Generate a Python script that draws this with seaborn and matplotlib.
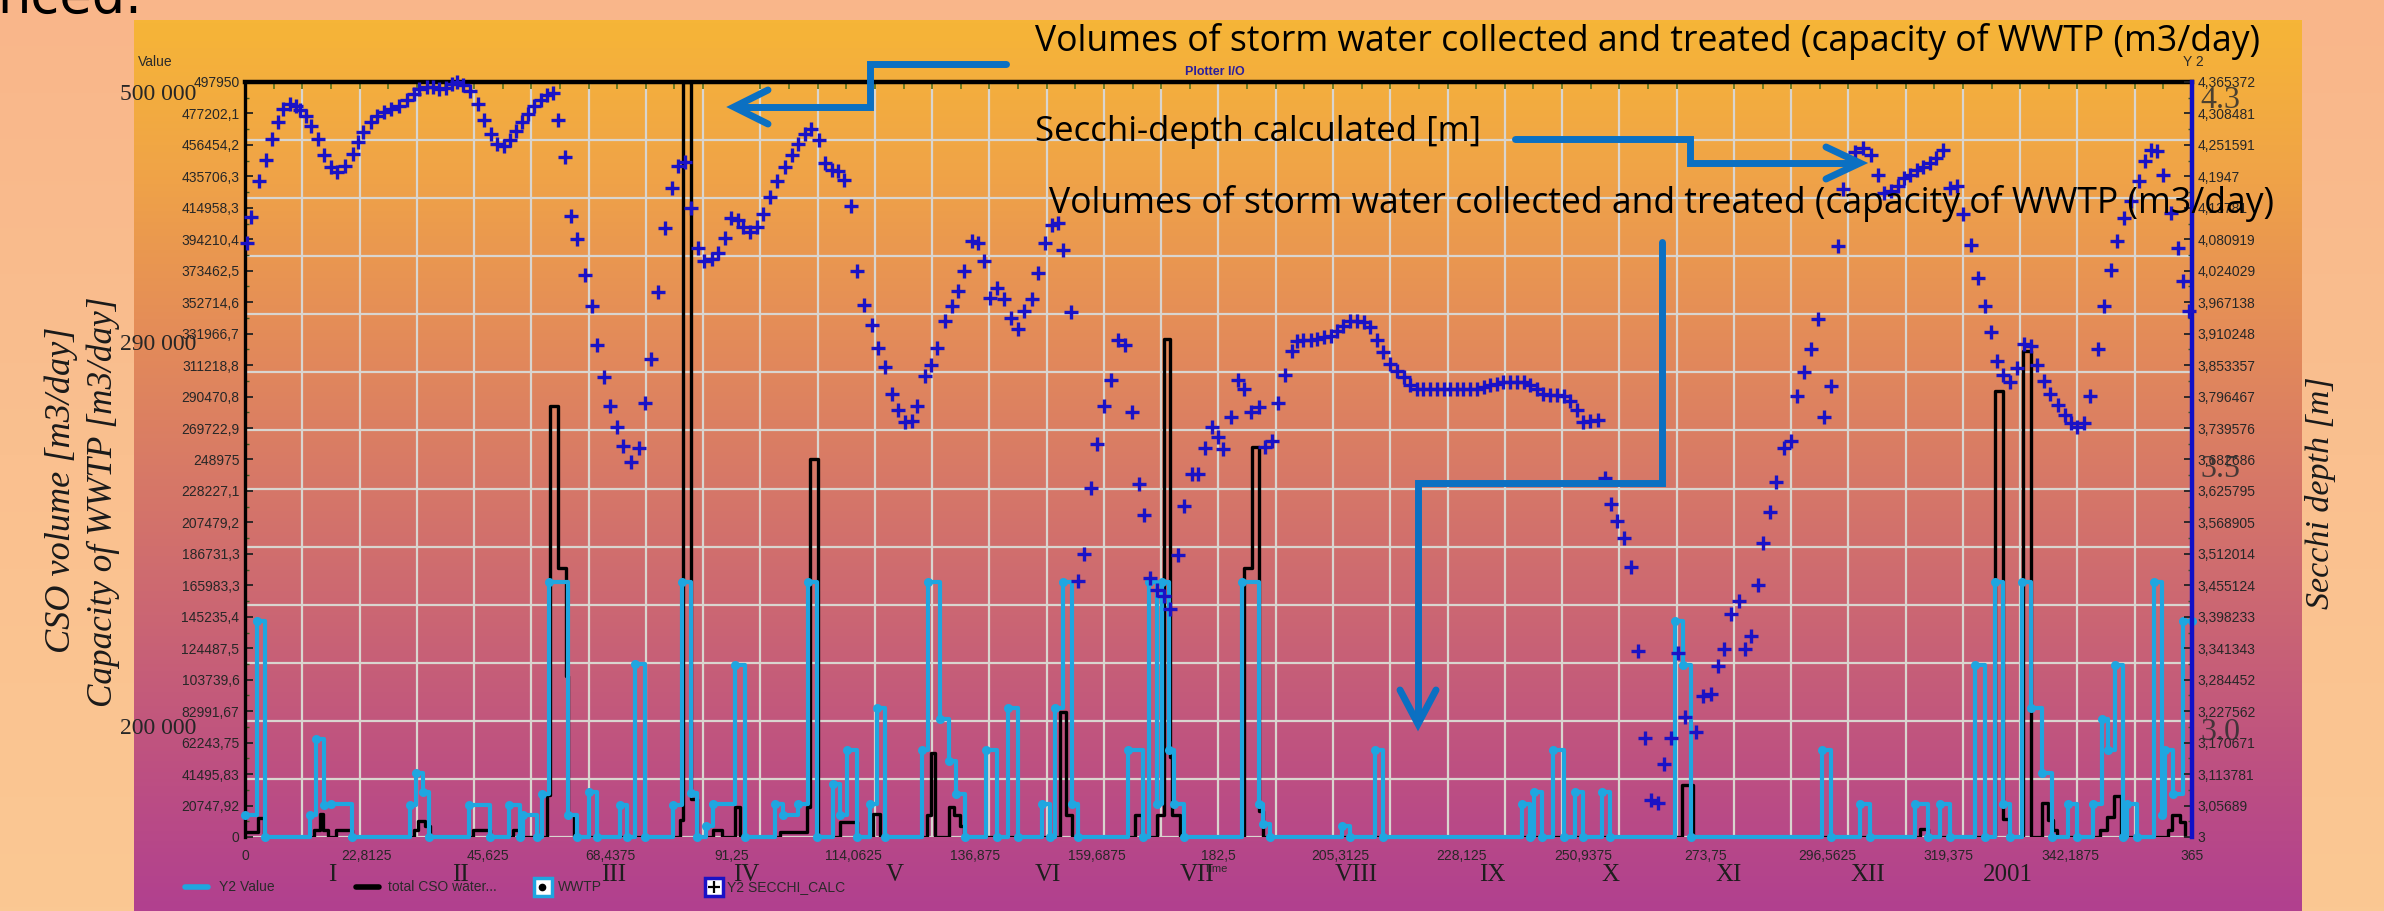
"""
CSO volumes, WWTP capacity and calculated Secchi depth (Plotter I/O screenshot)
"""
import numpy as np
import matplotlib
matplotlib.use("Agg")
import matplotlib.pyplot as plt
from matplotlib.colors import LinearSegmentedColormap
from matplotlib.lines import Line2D
import seaborn as sns

sns.set_theme(style="white")
plt.rcParams["font.family"] = ["Liberation Sans", "DejaVu Sans"]

# ─────────────────────────────────────────────
# DATA
# ─────────────────────────────────────────────
# calculated Secchi depth [m] (right axis)
secchi_day = [
    0.3, 1.1, 2.6, 3.9, 5.0, 6.1, 7.2, 8.4, 9.6, 10.4, 11.4, 12.4, 13.6, 14.9, 16.2,
    17.3, 18.7, 20.2, 21.2, 22.2, 23.6, 24.8, 26.1, 27.3, 28.8, 30.3, 31.6, 32.7, 34.1,
    35.3, 36.4, 37.7, 38.8, 39.8, 40.9, 42.2, 43.6, 44.8, 46.1, 47.2, 48.6, 49.7, 50.8,
    51.9, 53.1, 54.2, 55.4, 56.6, 57.7, 58.6, 60.0, 61.2, 62.3, 63.7, 65.1, 65.9, 67.3,
    68.4, 69.8, 70.9, 72.3, 73.9, 74.9, 76.1, 77.5, 78.8, 80.0, 81.2, 82.4, 83.7, 85.0,
    86.1, 87.5, 88.6, 90.0, 91.2, 92.5, 93.4, 94.7, 95.9, 97.2, 98.4, 99.8, 101.2, 102.5,
    103.7, 105.0, 106.2, 107.7, 108.7, 110.0, 111.1, 112.2, 113.6, 114.8, 116.0, 117.5,
    118.7, 120.0, 121.2, 122.5, 123.7, 125.0, 126.0, 127.4, 128.6, 129.8, 131.2, 132.5,
    133.7, 134.8, 136.2, 137.5, 138.6, 139.7, 141.0, 142.3, 143.6, 145.0, 146.1, 147.5,
    148.6, 150.0, 151.2, 152.4, 153.4, 154.8, 156.1, 157.3, 158.6, 159.8, 161.1, 162.3,
    163.6, 165.0, 166.2, 167.6, 168.5, 169.7, 170.9, 172.2, 173.4, 175.0, 176.1, 177.5,
    178.7, 180.0, 181.2, 182.5, 183.4, 184.8, 186.1, 187.3, 188.6, 190.0, 191.2, 192.5,
    193.7, 195.0, 196.2, 197.2, 198.4, 199.8, 200.9, 202.3, 203.6, 204.7, 205.9, 207.2,
    208.4, 209.7, 210.9, 212.2, 213.4, 214.7, 215.9, 217.2, 218.4, 219.7, 220.9, 222.2,
    223.4, 224.7, 225.9, 227.2, 228.4, 229.7, 230.9, 232.2, 233.4, 234.7, 235.9, 237.2,
    238.4, 239.7, 240.9, 242.2, 243.4, 244.7, 245.9, 247.2, 248.4, 249.7, 250.9, 252.2,
    253.7, 255.0, 256.1, 257.2, 258.6, 259.8, 261.1, 262.4, 263.6, 264.9, 266.1, 267.4,
    268.7, 269.9, 272.1, 273.3, 274.8, 276.2, 277.3, 278.6, 280.0, 281.2, 282.4, 283.7,
    284.6, 285.9, 287.1, 288.5, 289.8, 290.9, 292.3, 293.6, 294.9, 296.1, 297.4, 298.7,
    299.6, 301.8, 303.4, 304.9, 306.2, 307.3, 308.5, 309.8, 311.0, 312.1, 313.4, 314.6,
    315.9, 317.1, 318.4, 319.6, 321.0, 322.1, 323.5, 324.8, 326.2, 327.4, 328.4, 329.6,
    330.9, 332.1, 333.5, 334.8, 336.0, 337.3, 338.4, 339.8, 341.2, 342.4, 343.4, 344.8,
    345.9, 347.3, 348.5, 349.8, 351.0, 352.3, 353.5, 355.0, 356.2, 357.3, 358.5, 359.6,
    361.0, 362.3, 363.4, 364.5,
]
secchi_val = [
    4.074, 4.121, 4.187, 4.225, 4.263, 4.293, 4.317, 4.326, 4.322, 4.315, 4.304, 4.286,
    4.263, 4.234, 4.212, 4.203, 4.214, 4.236, 4.257, 4.275, 4.293, 4.304, 4.311, 4.317,
    4.322, 4.333, 4.344, 4.353, 4.357, 4.357, 4.353, 4.355, 4.362, 4.366, 4.360, 4.349,
    4.326, 4.297, 4.272, 4.254, 4.250, 4.261, 4.277, 4.293, 4.308, 4.322, 4.333, 4.342,
    4.346, 4.297, 4.230, 4.123, 4.081, 4.016, 3.960, 3.890, 3.831, 3.780, 3.741, 3.707,
    3.679, 3.703, 3.784, 3.865, 3.985, 4.101, 4.174, 4.214, 4.220, 4.138, 4.066, 4.041,
    4.045, 4.056, 4.084, 4.120, 4.115, 4.104, 4.095, 4.104, 4.126, 4.158, 4.187, 4.212,
    4.234, 4.254, 4.272, 4.281, 4.261, 4.218, 4.207, 4.205, 4.189, 4.142, 4.023, 3.962,
    3.926, 3.885, 3.850, 3.802, 3.773, 3.750, 3.753, 3.780, 3.834, 3.854, 3.885, 3.933,
    3.960, 3.988, 4.023, 4.078, 4.074, 4.041, 3.975, 3.993, 3.973, 3.939, 3.919, 3.951,
    3.973, 4.020, 4.075, 4.106, 4.110, 4.061, 3.949, 3.463, 3.512, 3.631, 3.710, 3.780,
    3.826, 3.898, 3.889, 3.769, 3.639, 3.582, 3.468, 3.447, 3.436, 3.413, 3.510, 3.598,
    3.656, 3.656, 3.703, 3.742, 3.723, 3.701, 3.760, 3.827, 3.811, 3.768, 3.777, 3.706,
    3.717, 3.784, 3.836, 3.879, 3.897, 3.899, 3.899, 3.901, 3.904, 3.906, 3.915, 3.924,
    3.933, 3.934, 3.931, 3.922, 3.899, 3.877, 3.856, 3.843, 3.831, 3.818, 3.811, 3.811,
    3.811, 3.811, 3.811, 3.810, 3.810, 3.811, 3.811, 3.811, 3.814, 3.817, 3.820, 3.822,
    3.822, 3.823, 3.823, 3.818, 3.811, 3.802, 3.800, 3.800, 3.798, 3.789, 3.773, 3.751,
    3.753, 3.755, 3.649, 3.602, 3.571, 3.540, 3.489, 3.336, 3.179, 3.067, 3.062, 3.132,
    3.179, 3.333, 3.217, 3.190, 3.255, 3.258, 3.310, 3.340, 3.403, 3.426, 3.340, 3.364,
    3.456, 3.532, 3.588, 3.642, 3.703, 3.717, 3.798, 3.841, 3.883, 3.937, 3.759, 3.815,
    4.068, 4.171, 4.239, 4.246, 4.234, 4.198, 4.164, 4.169, 4.178, 4.191, 4.198, 4.207,
    4.212, 4.219, 4.228, 4.242, 4.174, 4.178, 4.126, 4.070, 4.011, 3.960, 3.913, 3.861,
    3.836, 3.823, 3.849, 3.892, 3.888, 3.854, 3.825, 3.801, 3.782, 3.764, 3.748, 3.741,
    3.748, 3.798, 3.883, 3.960, 4.025, 4.078, 4.119, 4.151, 4.187, 4.223, 4.243, 4.241,
    4.198, 4.128, 4.065, 4.005, 3.951,
]

# WWTP treated volume [m3/day], step series (day where a level starts, level)
wwtp_day = [
    0, 2.2, 3.7, 12.2, 13.4, 14.9, 16.2, 20.0, 31.0, 32.0, 33.4, 34.5, 42.0, 46.0,
    49.4, 51.6, 52.2, 54.7, 55.6, 56.9, 60.6, 62.2, 64.4, 66.0, 70.3, 71.6, 73.1, 75.0,
    80.3, 82.0, 83.7, 84.7, 86.5, 87.8, 91.9, 93.7, 99.4, 100.9, 103.7, 105.5, 107.2,
    110.3, 111.5, 112.8, 114.7, 117.2, 118.4, 120.0, 126.9, 128.1, 130.2, 131.9, 133.2,
    135.0, 139.0, 141.0, 143.1, 145.0, 149.4, 150.9, 151.9, 153.4, 155.0, 156.2, 165.6,
    168.4, 169.4, 171.0, 171.9, 173.2, 174.2, 176.0, 186.9, 190.0, 190.9, 192.2, 205.6,
    207.2, 211.9, 213.4, 239.4, 240.9, 241.6, 243.1, 245.3, 247.2, 249.4, 250.9, 254.4,
    255.9, 268.1, 269.5, 271.0, 295.6, 297.4, 302.8, 304.6, 313.1, 315.6, 317.8, 319.6,
    324.3, 326.2, 328.1, 329.6, 330.9, 333.1, 334.8, 336.8, 338.7, 341.8, 343.4, 346.5,
    348.1, 349.3, 350.6, 352.1, 352.8, 354.6, 357.8, 359.3, 359.9, 361.5, 363.4, 365.0,
]
wwtp_val = [
    14700, 142600, 0, 14700, 64500, 21000, 22000, 0, 21000, 42500, 30000, 0, 21000, 0,
    21000, 0, 14700, 0, 28400, 168000, 14700, 0, 29400, 0, 21000, 0, 114300, 0,
    21000, 168000, 29000, 0, 7000, 21900, 113700, 0, 21900, 14700, 21900, 168000, 0,
    35000, 14700, 57200, 0, 21900, 84800, 0, 57200, 168000, 77600, 49800, 28400,
    0, 57200, 0, 84800, 0, 21900, 0, 84800, 168000, 21900, 0, 57200,
    0, 168000, 21900, 168000, 57200, 21900, 0, 168000, 21900, 8700, 0, 7100,
    0, 57200, 0, 21900, 0, 29400, 0, 57200, 0, 29400, 0, 29400,
    0, 142600, 113700, 0, 57200, 0, 21900, 0, 21900, 0, 21900, 0,
    113700, 0, 168000, 21900, 0, 168000, 84800, 42500, 0, 21900, 0, 21900,
    77600, 57200, 113700, 0, 21900, 0, 168000, 14700, 57200, 28400, 142600, 142600,
]

# total CSO water [m3/day], step series
cso_day = [
    0, 2.5, 3.5, 13.0, 14.0, 14.7, 15.5, 17.0, 20.0, 31.6, 32.5, 33.8, 34.7, 42.8, 46.0,
    50.3, 51.6, 56.6, 57.2, 58.7, 60.2, 60.6, 61.6, 81.6, 82.2, 83.7, 84.7, 87.8, 89.4,
    91.9, 92.8, 100.3, 105.3, 106.0, 107.5, 111.5, 114.7, 117.8, 119.0, 127.8, 128.6,
    129.4, 131.9, 133.0, 134.0, 134.7, 152.8, 154.0, 155.0, 166.9, 168.1, 170.9, 172.2,
    173.4, 173.7, 175.3, 187.2, 188.7, 190.0, 190.9, 269.4, 271.5, 314.0, 315.6, 328.1,
    329.6, 330.6, 333.4, 334.9, 336.8, 338.0, 339.0, 339.6, 347.8, 349.0, 350.3, 351.6,
    360.5, 361.3, 362.7, 363.7,
]
cso_val = [
    3500, 12700, 0, 4700, 15300, 4700, 0, 4700, 0, 4700, 10400, 7100, 0, 4700, 0,
    4700, 0, 28000, 284400, 177700, 106500, 14700, 0, 11300, 497950, 25000, 0, 4700, 0,
    20000, 0, 3000, 20000, 249200, 0, 10000, 0, 15000, 0, 14700, 55700,
    0, 20000, 14700, 7000, 0, 82600, 14700, 0, 14700, 0, 14700, 328700,
    53000, 14700, 0, 177700, 257400, 17000, 0, 34300, 0, 5500, 0, 294200,
    12000, 0, 320400, 0, 22400, 11200, 4600, 0, 4700, 13200, 26800, 0,
    4700, 14500, 10000, 0,
]

# tick labels as printed by the plotter
x_tick_labels = ["0", "22,8125", "45,625", "68,4375", "91,25", "114,0625", "136,875",
                 "159,6875", "182,5", "205,3125", "228,125", "250,9375", "273,75",
                 "296,5625", "319,375", "342,1875", "365"]
left_tick_labels = ["0", "20747,92", "41495,83", "62243,75", "82991,67", "103739,6",
                    "124487,5", "145235,4", "165983,3", "186731,3", "207479,2",
                    "228227,1", "248975", "269722,9", "290470,8", "311218,8",
                    "331966,7", "352714,6", "373462,5", "394210,4", "414958,3",
                    "435706,3", "456454,2", "477202,1", "497950"]
right_tick_labels = ["3", "3,05689", "3,113781", "3,170671", "3,227562", "3,284452",
                     "3,341343", "3,398233", "3,455124", "3,512014", "3,568905",
                     "3,625795", "3,682686", "3,739576", "3,796467", "3,853357",
                     "3,910248", "3,967138", "4,024029", "4,080919", "4,13781",
                     "4,1947", "4,251591", "4,308481", "4,365372"]
month_labels = ["I", "II", "III", "IV", "V", "VI", "VII", "VIII", "IX", "X", "XI",
                "XII", "2001"]
left_big_labels = ["500 000", "290 000", "200 000"]
right_big_labels = ["4.3", "3.5", "3.0"]

X_MAX, Y_MAX = 365, 497950
Y2_MIN, Y2_MAX = 3, 4.365372

# ─────────────────────────────────────────────
# STYLE / LAYOUT (pixels of the 2384 x 911 screenshot)
# ─────────────────────────────────────────────
W, H = 2384, 911
CYAN = "#1FA6E0"
SECCHI_BLUE = "#1A12C6"
ARROW_BLUE = "#0B70C2"
TICK_COLOR = "#272727"


def fx(x):
    return x / W


def fy(y):
    return 1 - y / H


fig = plt.figure(figsize=(W / 100, H / 100), dpi=100)

# background: slide (peach) + plotter panel (orange -> magenta)
bg = fig.add_axes([0, 0, 1, 1], zorder=-5)
bg.set_xlim(0, W)
bg.set_ylim(H, 0)
bg.axis("off")
grad = np.linspace(0, 1, 256).reshape(-1, 1)
outer_cmap = LinearSegmentedColormap.from_list("outer", ["#F9B68A", "#FAC08F", "#FAC893"])
panel_cmap = LinearSegmentedColormap.from_list(
    "panel", ["#F6B537", "#F0A447", "#E58E57", "#D87A66", "#CB6673", "#BE5181", "#B1408F"])
bg.imshow(grad, extent=(0, W, H, 0), aspect="auto", cmap=outer_cmap)
bg.imshow(grad, extent=(134, 2302, H, 20), aspect="auto", cmap=panel_cmap)

# main axes
ax = fig.add_axes([fx(245), fy(837), fx(2192) - fx(245), fy(82) - fy(837)])
ax.patch.set_visible(False)
ax.set_xlim(0, X_MAX)
ax.set_ylim(0, Y_MAX)

# plotter grid (34 x 13 cells, independent of the labelled ticks)
ax.vlines(np.linspace(0, X_MAX, 35), 0, Y_MAX, color="#D9D5CF", lw=1.6, zorder=0.5)
ax.hlines(np.linspace(0, Y_MAX, 14), 0, X_MAX, color="#D9D5CF", lw=1.6, zorder=0.5)

sns.lineplot(x=cso_day, y=cso_val, ax=ax, drawstyle="steps-post", color="black",
             lw=2.4, estimator=None, sort=False, zorder=2.5)
sns.lineplot(x=wwtp_day, y=wwtp_val, ax=ax, drawstyle="steps-post", color=CYAN,
             lw=3.0, marker="o", markersize=6.5, markeredgewidth=0,
             estimator=None, sort=False, zorder=3, clip_on=False)

ax.set_xticks(np.linspace(0, X_MAX, 17))
ax.set_xticklabels(x_tick_labels)
ax.set_xticks(np.linspace(0, X_MAX, 69), minor=True)
ax.set_yticks(np.linspace(0, Y_MAX, 25))
ax.set_yticklabels(left_tick_labels)
ax.set_yticks(np.linspace(0, Y_MAX, 49), minor=True)
ax.tick_params(axis="x", which="major", length=0, pad=9, labelsize=10,
               labelcolor=TICK_COLOR)
ax.tick_params(axis="x", which="minor", bottom=False, top=True, direction="in",
               length=5, width=1.4, color="#6B7B22")
ax.tick_params(axis="y", which="major", direction="in", length=6, width=1.3,
               color="#222222", pad=4, labelsize=10, labelcolor=TICK_COLOR)
ax.tick_params(axis="y", which="minor", direction="in", length=3, width=1.0,
               color="#3D5A1E")
ax.set_xlabel("")
ax.set_ylabel("")
ax.spines["bottom"].set_visible(False)
ax.spines["right"].set_visible(False)
ax.spines["top"].set_linewidth(3.2)
ax.spines["top"].set_color("black")
ax.spines["left"].set_linewidth(2.4)
ax.spines["left"].set_color("black")

# secondary axis: Secchi depth
ax2 = ax.twinx()
ax2.patch.set_visible(False)
ax2.set_ylim(Y2_MIN, Y2_MAX)
sns.scatterplot(x=secchi_day, y=secchi_val, ax=ax2, marker="+", s=90,
                color=SECCHI_BLUE, linewidth=2.4, zorder=5, clip_on=False)
ax2.set_yticks(np.linspace(Y2_MIN, Y2_MAX, 25))
ax2.set_yticklabels(right_tick_labels)
ax2.set_yticks(np.linspace(Y2_MIN, Y2_MAX, 49), minor=True)
ax2.tick_params(axis="y", which="major", direction="in", length=6, width=1.3,
                color="#222222", pad=4, labelsize=10, labelcolor=TICK_COLOR)
ax2.tick_params(axis="y", which="minor", direction="in", length=3, width=1.0,
                color="#3D5A1E")
ax2.set_ylabel("")
for side in ("top", "bottom", "left"):
    ax2.spines[side].set_visible(False)
ax2.spines["right"].set_color("#1010C8")
ax2.spines["right"].set_linewidth(3.2)

# ─────────────────────────────────────────────
# TEXT OVERLAYS
# ─────────────────────────────────────────────
small = dict(family=["Liberation Sans", "DejaVu Sans"], color="#2A2A2A")
fig.text(fx(138), fy(62), "Value", fontsize=10, va="center", ha="left", **small)
fig.text(fx(2183), fy(62), "Y 2", fontsize=10, va="center", ha="left", **small)
fig.text(fx(1215), fy(72), "Plotter I/O", fontsize=9, fontweight="bold",
         color="#2A1E9E", va="center", ha="center")
fig.text(fx(1216), fy(869), "Time", fontsize=8, va="center", ha="center", **small)

serif = ["Liberation Serif", "DejaVu Serif"]
for label, y in zip(left_big_labels, [94, 345, 728]):
    fig.text(fx(158), fy(y), label, family=serif, fontsize=17, color="#262626",
             ha="center", va="center")
for label, y in zip(right_big_labels, [100, 470, 733]):
    fig.text(fx(2220), fy(y), label, family=serif, fontsize=23, color="#2E2E2E",
             ha="center", va="center", alpha=0.85)

month_x = [332, 460, 614, 746, 895, 1048, 1197, 1356, 1492, 1610, 1729, 1868, 2008]
for label, x in zip(month_labels, month_x):
    fig.text(fx(x), fy(875), label, family=serif, fontsize=18, color="#1E1E1E",
             ha="center", va="center")

# slide remnant in the top-left corner
fig.text(fx(-3), fy(13), "nced.", family="DejaVu Sans", fontsize=38, color="black",
         ha="left", va="baseline")

# rotated axis titles
t_cso = fig.text(fx(61), fy(490), "CSO volume [m3/day]", family=serif, style="italic",
                 fontsize=24, rotation=90, ha="center", va="center", color="#1A1A1A")
t_cap = fig.text(fx(103), fy(502), "Capacity of WWTP [m3/day]", family=serif,
                 style="italic", fontsize=24, rotation=90, ha="center", va="center",
                 color="#1A1A1A")
t_sec = fig.text(fx(2320), fy(493), "Secchi depth [m]", family=serif, style="italic",
                 fontsize=24, rotation=90, ha="center", va="center", color="#1A1A1A")

# slide call-outs
note_font = ["Open Sans", "DejaVu Sans"]
t_n1 = fig.text(fx(1035), fy(42),
                "Volumes of storm water collected and treated (capacity of WWTP (m3/day)",
                family=note_font, fontsize=26, ha="left", va="center", color="black")
t_n2 = fig.text(fx(1035), fy(132), "Secchi-depth calculated [m]", family=note_font,
                fontsize=26, ha="left", va="center", color="black")
t_n3 = fig.text(fx(1049), fy(203),
                "Volumes of storm water collected and treated (capacity of WWTP (m3/day)",
                family=note_font, fontsize=26, ha="left", va="center", color="black")

renderer = fig.canvas.get_renderer()


def fit(text, target, vertical=False):
    bb = text.get_window_extent(renderer=renderer)
    size = bb.height if vertical else bb.width
    text.set_fontsize(text.get_fontsize() * target / size)


fit(t_cso, 327, vertical=True)
fit(t_cap, 411, vertical=True)
fit(t_sec, 233, vertical=True)
fit(t_n1, 1228)
fit(t_n2, 447)
fit(t_n3, 1227)

# call-out arrows
arrow_paths = [
    [(1006, 64), (870, 64), (870, 107), (736, 107)],
    [(1515, 139), (1690, 139), (1690, 163), (1857, 163)],
    [(1662, 242), (1662, 483), (1418, 483), (1418, 721)],
]
arrow_heads = [
    [(768, 90), (734, 107), (768, 124)],
    [(1826, 147), (1860, 163), (1826, 179)],
    [(1400, 690), (1418, 724), (1436, 690)],
]
for path in arrow_paths + arrow_heads:
    xs, ys = zip(*path)
    fig.add_artist(Line2D([fx(x) for x in xs], [fy(y) for y in ys],
                          transform=fig.transFigure, color=ARROW_BLUE, lw=5,
                          solid_joinstyle="miter", solid_capstyle="round", zorder=6))

# legend of the plotter window
legend_y = fy(887)
fig.add_artist(Line2D([fx(185), fx(208)], [legend_y, legend_y], transform=fig.transFigure,
                      color=CYAN, lw=4))
fig.add_artist(Line2D([fx(356), fx(379)], [legend_y, legend_y], transform=fig.transFigure,
                      color="black", lw=4))
fig.add_artist(Line2D([fx(543)], [legend_y], transform=fig.transFigure, marker="s",
                      ms=13, mfc="white", mec=CYAN, mew=2.5, lw=0))
fig.add_artist(Line2D([fx(542)], [legend_y], transform=fig.transFigure, marker="o",
                      ms=4.5, color="black", lw=0))
fig.add_artist(Line2D([fx(714)], [legend_y], transform=fig.transFigure, marker="s",
                      ms=13, mfc="white", mec="#1A12C6", mew=2.5, lw=0))
fig.add_artist(Line2D([fx(714)], [legend_y], transform=fig.transFigure, marker="+",
                      ms=8, color="black", mew=1.6, lw=0))
for x, label in zip([219, 388, 558, 727],
                    ["Y2 Value", "total CSO water...", "WWTP", "Y2 SECCHI_CALC"]):
    fig.text(fx(x), legend_y, label, fontsize=10, ha="left", va="center", **small)

fig.savefig("out.png", dpi=100)
